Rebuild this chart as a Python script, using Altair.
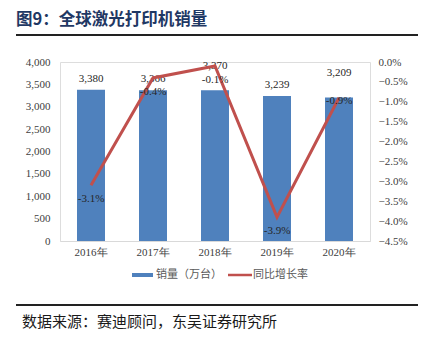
import altair as alt
import pandas as pd

years = ["2016年", "2017年", "2018年", "2019年", "2020年"]
sales = [3380, 3366, 3370, 3239, 3209]
growth = [-0.031, -0.004, -0.001, -0.039, -0.009]
sales_labels = ["3,380", "3,366", "3,370", "3,239", "3,209"]
growth_labels = ["-3.1%", "-0.4%", "-0.1%", "-3.9%", "-0.9%"]
high_sales_label = ["2018年", "2020年"]
near_growth_label = ["2020年"]

title_text = "图9：全球激光打印机销量"
source_text = "数据来源：赛迪顾问，东吴证券研究所"
legend_names = ["销量（万台）", "同比增长率"]

BLUE = "#4F81BD"
RED = "#C0504D"
SERIF = "Liberation Serif"
CJK = "Noto Sans CJK SC"

df = pd.DataFrame({
    "year": years, "sales": sales, "growth": growth,
    "slabel": sales_labels, "glabel": growth_labels,
})

W, H = 310, 179

x = alt.X("year:N", sort=years, title=None,
          axis=alt.Axis(labelAngle=0, domainColor="#D9D9D9", ticks=False,
                        labelFont=SERIF, labelFontSize=11, labelColor="#404040",
                        labelPadding=5))

y_left = alt.Y("sales:Q", title=None,
               scale=alt.Scale(domain=[0, 4000], nice=False),
               axis=alt.Axis(values=list(range(0, 4001, 500)), format=",d",
                             domain=False, ticks=False, grid=False,
                             labelFont=SERIF, labelFontSize=11,
                             labelColor="#404040", labelPadding=10))

base = alt.Chart(df)

bars = base.mark_bar(color=BLUE, size=28).encode(x=x, y=y_left)

bar_text_a = base.transform_filter(
    ~alt.FieldOneOfPredicate(field="year", oneOf=high_sales_label)
).mark_text(font=SERIF, fontSize=11, color="#262626", baseline="middle", dy=-11).encode(
    x=x, y=y_left, text="slabel:N")
bar_text_b = base.transform_filter(
    alt.FieldOneOfPredicate(field="year", oneOf=high_sales_label)
).mark_text(font=SERIF, fontSize=11, color="#262626", baseline="middle", dy=-24).encode(
    x=x, y=y_left, text="slabel:N")

left_layer = alt.layer(bars, bar_text_a, bar_text_b)

y_right = alt.Y("growth:Q", title=None,
                scale=alt.Scale(domain=[-0.045, 0], nice=False),
                axis=alt.Axis(orient="right", values=[round(-0.045 + 0.005 * i, 3) for i in range(10)],
                              format=".1%", domain=False, ticks=False, grid=False,
                              labelFont=SERIF, labelFontSize=11,
                              labelColor="#404040", labelPadding=8))

line = base.mark_line(color=RED, strokeWidth=3).encode(x=x, y=y_right)

line_text_a = base.transform_filter(
    ~alt.FieldOneOfPredicate(field="year", oneOf=near_growth_label)
).mark_text(font=SERIF, fontSize=11, color="#262626", baseline="middle", dy=14).encode(
    x=x, y=y_right, text="glabel:N")
line_text_b = base.transform_filter(
    alt.FieldOneOfPredicate(field="year", oneOf=near_growth_label)
).mark_text(font=SERIF, fontSize=11, color="#262626", baseline="middle", dy=3).encode(
    x=x, y=y_right, text="glabel:N")

right_layer = alt.layer(line, line_text_a, line_text_b)

# decorations
tdf = pd.DataFrame({"t": [title_text]})
title = alt.Chart(tdf).mark_text(font=CJK, fontSize=16.5, fontWeight="bold",
                                 color="#1F3864", align="left", baseline="middle").encode(
    x=alt.value(-44), y=alt.value(-42), text="t:N")
top_rule = alt.Chart(tdf).mark_rule(color="#222222", strokeWidth=2).encode(
    x=alt.value(-44), x2=alt.value(358), y=alt.value(-27))
bottom_rule = alt.Chart(tdf).mark_rule(color="#222222", strokeWidth=2).encode(
    x=alt.value(-44), x2=alt.value(358), y=alt.value(243))
sdf = pd.DataFrame({"t": [source_text]})
source = alt.Chart(sdf).mark_text(font=CJK, fontSize=15, color="#1a1a1a",
                                  align="left", baseline="middle").encode(
    x=alt.value(-38), y=alt.value(260), text="t:N")

ldf1 = pd.DataFrame({"t": [legend_names[0]]})
ldf2 = pd.DataFrame({"t": [legend_names[1]]})
leg_rect = alt.Chart(ldf1).mark_rect(color=BLUE).encode(
    x=alt.value(72), x2=alt.value(93), y=alt.value(211), y2=alt.value(215))
leg_text1 = alt.Chart(ldf1).mark_text(font=CJK, fontSize=11, color="#595959",
                                      align="left", baseline="middle").encode(
    x=alt.value(96), y=alt.value(213), text="t:N")
leg_line = alt.Chart(ldf2).mark_rule(color=RED, strokeWidth=2.5).encode(
    x=alt.value(168), x2=alt.value(192), y=alt.value(213))
leg_text2 = alt.Chart(ldf2).mark_text(font=CJK, fontSize=11, color="#595959",
                                      align="left", baseline="middle").encode(
    x=alt.value(193), y=alt.value(213), text="t:N")

main = alt.layer(left_layer, right_layer).resolve_scale(y="independent")

chart = alt.layer(
    main, title, top_rule, bottom_rule, source, leg_rect, leg_text1, leg_line, leg_text2
).properties(
    width=W, height=H,
    autosize=alt.AutoSizeParams(type="none"),
    padding={"left": 60, "top": 62, "right": 57, "bottom": 100},
).configure_view(stroke=None).configure(background="white")

chart.save("out.html", embed_options={"renderer": "svg", "actions": False})
